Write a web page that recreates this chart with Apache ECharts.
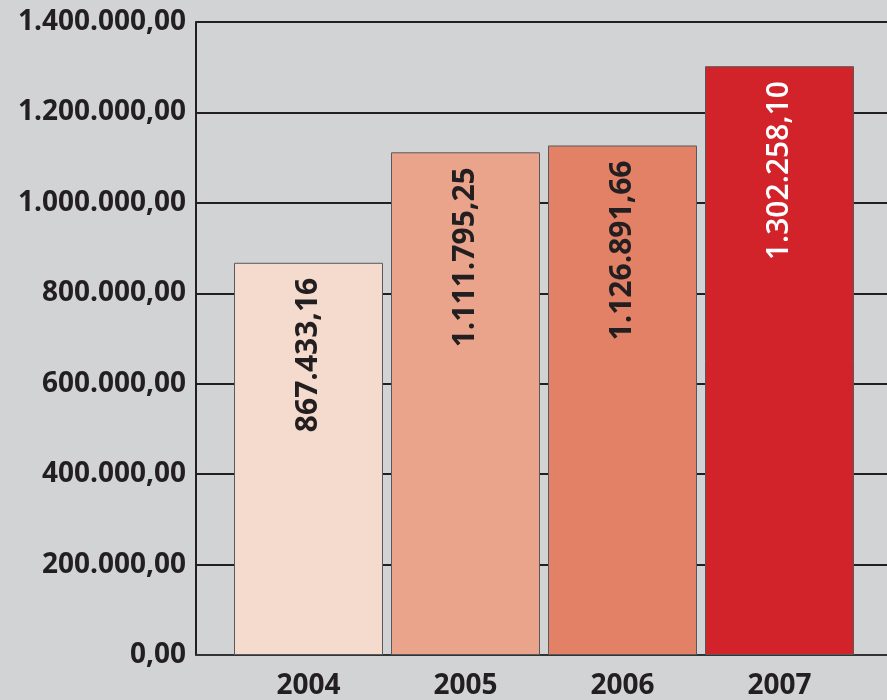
<!DOCTYPE html>
<html>
<head>
<meta charset="utf-8">
<script src="https://cdn.jsdelivr.net/npm/echarts@6/dist/echarts.min.js"></script>
<style>
html,body{margin:0;padding:0;background:#d2d3d5;}
#chart{width:887px;height:700px;}
</style>
</head>
<body>
<div id="chart"></div>
<script>
const years = ['2004', '2005', '2006', '2007'];
const values = [867433.16, 1111795.25, 1126891.66, 1302258.10];
const barColors = ['#f5dbcd', '#eaa48c', '#e38166', '#d2232a'];
const labelColors = ['#231f20', '#231f20', '#231f20', '#ffffff'];
const yTicks = [0, 200000, 400000, 600000, 800000, 1000000, 1200000, 1400000];

function fmt(v) {
  const s = Number(v).toFixed(2);
  const parts = s.split('.');
  const intPart = parts[0].replace(/\B(?=(\d{3})+(?!\d))/g, '.');
  return intPart + ',' + parts[1];
}

const FONT = "'Open Sans', 'Noto Sans', sans-serif";
const chart = echarts.init(document.getElementById('chart'));
chart.setOption({
  backgroundColor: '#d2d3d5',
  animation: false,
  grid: [
    {left: 196, right: 0, top: 22, bottom: 45},
    {left: 230, right: 29, top: 22, bottom: 45}
  ],
  xAxis: [
    {gridIndex: 0, type: 'category', data: [''],
     axisLine: {show: true, lineStyle: {color: '#3a3a3c', width: 1.5}},
     axisTick: {show: false}, axisLabel: {show: false}},
    {gridIndex: 1, type: 'category', data: years,
     axisLine: {show: false}, axisTick: {show: false},
     axisLabel: {fontFamily: FONT, fontWeight: 'bold', fontSize: 28, color: '#231f20', margin: 17}}
  ],
  yAxis: [
    {gridIndex: 0, type: 'value', min: yTicks[0], max: yTicks[yTicks.length - 1], interval: yTicks[1] - yTicks[0],
     axisLine: {show: true, lineStyle: {color: '#231f20', width: 2}},
     axisTick: {show: false},
     splitLine: {show: true, lineStyle: {color: '#231f20', width: 2}},
     axisLabel: {fontFamily: FONT, fontWeight: 'bold', fontSize: 28, color: '#231f20', margin: 10,
                 padding: [4, 0, 0, 0],
                 formatter: v => fmt(v)}},
    {gridIndex: 1, type: 'value', min: yTicks[0], max: yTicks[yTicks.length - 1], show: false}
  ],
  series: [{
    type: 'bar',
    xAxisIndex: 1, yAxisIndex: 1,
    barWidth: 149,
    data: values.map((v, i) => ({
      value: v,
      itemStyle: {color: barColors[i], borderColor: '#59595b', borderWidth: 1},
      label: {color: labelColors[i], fontWeight: i === 3 ? 600 : 'bold'}
    })),
    label: {
      show: true,
      position: 'insideTop',
      distance: 15,
      rotate: 90,
      align: 'right',
      verticalAlign: 'middle',
      fontFamily: FONT,
      fontSize: 30,
      formatter: p => fmt(p.value)
    }
  }]
});
</script>
</body>
</html>
